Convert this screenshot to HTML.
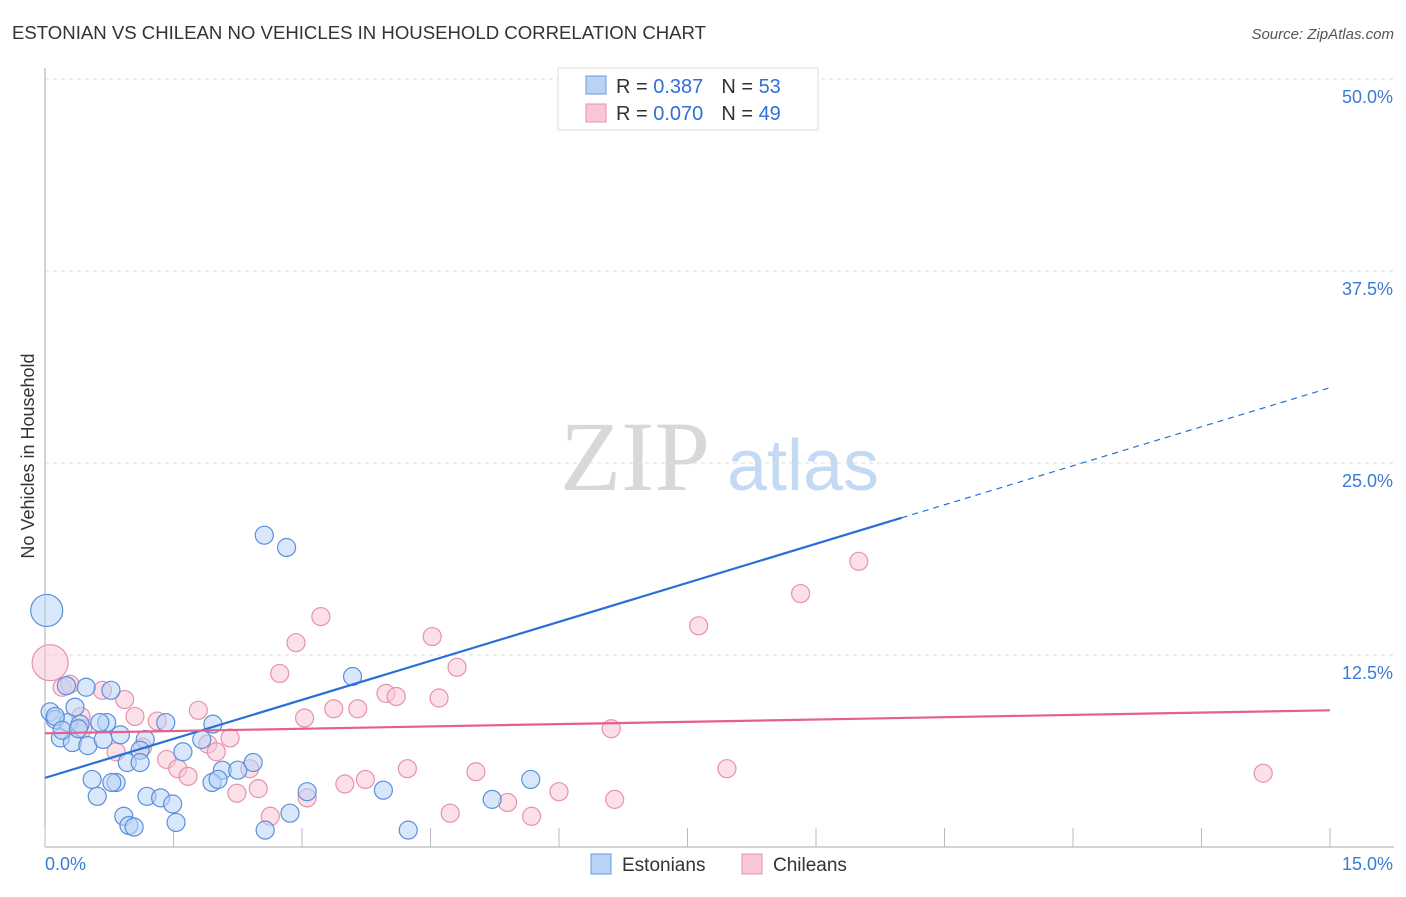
<!DOCTYPE html>
<html><head><meta charset="utf-8"><style>
body{margin:0;background:#fff;font-family:"Liberation Sans",sans-serif}
svg text{font-family:"Liberation Sans",sans-serif}
</style></head><body>
<svg id="chart" width="1406" height="892" viewBox="0 0 1406 892">
<text x="12" y="39" font-size="18" fill="#333" textLength="694" lengthAdjust="spacingAndGlyphs">ESTONIAN VS CHILEAN NO VEHICLES IN HOUSEHOLD CORRELATION CHART</text>
<text x="1394" y="39" font-size="15" fill="#555" font-style="italic" text-anchor="end">Source: ZipAtlas.com</text>
<g>
<text x="635" y="490" font-size="100" fill="#d8d8d8" style="font-family:'Liberation Serif',serif" text-anchor="middle">ZIP</text>
<text x="803" y="490" font-size="72" fill="#c4d9f3" text-anchor="middle">atlas</text>
</g>
<g id="grid"></g>
<g id="axes"></g>
<g id="pts"></g>
<g id="lines"></g>
<text transform="translate(34,456) rotate(-90)" font-size="18" fill="#333" text-anchor="middle">No Vehicles in Household</text>
<g>
<rect x="558" y="68" width="260" height="62" fill="#fff" stroke="#ddd"/>
<rect x="586" y="76" width="20" height="18" fill="#b8d3f5" stroke="#6a9be0"/>
<rect x="586" y="104" width="20" height="18" fill="#f8c6d6" stroke="#e891ad"/>
<text x="616" y="93" font-size="20" fill="#333">R = <tspan fill="#2f6fd6"> 0.387</tspan><tspan dx="18" fill="#333">N = </tspan><tspan fill="#2f6fd6">53</tspan></text>
<text x="616" y="120" font-size="20" fill="#333">R = <tspan fill="#2f6fd6">0.070</tspan><tspan dx="18" fill="#333">N = </tspan><tspan fill="#2f6fd6">49</tspan></text>
</g>
<g>
<rect x="591" y="854" width="20" height="20" fill="#b8d3f5" stroke="#6a9be0"/>
<text x="622" y="871" font-size="19" fill="#333">Estonians</text>
<rect x="742" y="854" width="20" height="20" fill="#f8c6d6" stroke="#e891ad"/>
<text x="773" y="871" font-size="19" fill="#333">Chileans</text>
</g>
</svg>
<script>
const xTicks=[0,1.5,3,4.5,6,7.5,9,10.5,12,13.5,15];
const yTicks=[12.5,25,37.5,50];
const yTickLabels=["12.5%","25.0%","37.5%","50.0%"];
const estX=[0.02,2.56,2.82,3.59,0.06,0.12,0.18,0.27,0.35,0.41,0.32,0.50,0.48,0.25,0.77,0.72,0.68,0.88,1.17,1.11,0.96,1.11,1.41,1.61,1.83,1.96,2.07,2.25,2.43,1.95,2.02,0.83,0.78,0.55,0.61,1.19,1.35,1.49,0.92,0.98,1.04,1.53,2.57,2.86,3.06,3.95,4.24,5.22,5.67,0.12,0.20,0.39,0.64];
const estY=[15.4,20.3,19.5,11.1,8.8,8.3,7.1,8.1,9.1,8.0,6.8,6.6,10.4,10.5,10.2,8.1,7.0,7.3,7.0,6.3,5.5,5.5,8.1,6.2,7.0,8.0,5.0,5.0,5.5,4.2,4.4,4.2,4.2,4.4,3.3,3.3,3.2,2.8,2.0,1.4,1.3,1.6,1.1,2.2,3.6,3.7,1.1,3.1,4.4,8.5,7.6,7.7,8.1];
const estSize=[16];
const chiX=[0.06,0.20,0.29,0.67,0.93,0.42,0.44,1.05,1.31,0.83,1.14,1.79,1.90,2.16,2.00,1.42,1.55,1.67,2.39,2.24,2.49,2.63,3.06,2.74,2.93,3.22,3.03,3.37,3.65,3.98,4.10,3.50,3.74,4.23,4.52,4.81,4.60,4.73,5.03,5.40,5.68,6.00,6.61,6.65,7.63,7.96,8.82,9.50,14.22];
const chiY=[12.0,10.4,10.6,10.2,9.6,8.5,7.7,8.5,8.2,6.2,6.5,8.9,6.7,7.1,6.2,5.7,5.1,4.6,5.1,3.5,3.8,2.0,3.2,11.3,13.3,15.0,8.4,9.0,9.0,10.0,9.8,4.1,4.4,5.1,13.7,11.7,9.7,2.2,4.9,2.9,2.0,3.6,7.7,3.1,14.4,5.1,16.5,18.6,4.8];
const chiSize=[18];
const estTrend=[4.5,29.9];
const chiTrend=[7.4,8.9];
const estSolidEnd=10.0;

const X=v=>45+v*(1285/15);
const Y=v=>847-v*(768/50);
const NS="http://www.w3.org/2000/svg";
function mk(tag,attrs,parent){const e=document.createElementNS(NS,tag);for(const k in attrs)e.setAttribute(k,attrs[k]);parent.appendChild(e);return e;}
const grid=document.getElementById('grid'),axes=document.getElementById('axes'),pts=document.getElementById('pts'),lines=document.getElementById('lines');
yTicks.forEach((t,i)=>{
  const l=mk('line',{x1:45,x2:1394,y1:Y(t),y2:Y(t),stroke:'#ddd','stroke-dasharray':'4,4'},grid);
  
  
  const tx=mk('text',{x:1393,y:Y(t)+24,'font-size':18,fill:'#3a7bd5','text-anchor':'end'},axes);
  tx.textContent=yTickLabels[i];
  
  
});
const xa=mk('line',{x1:45,x2:1394,y1:847,y2:847,stroke:'#aaa'},axes);


const ya=mk('line',{x1:45,x2:45,y1:68,y2:847,stroke:'#aaa'},axes);


xTicks.forEach(t=>{
  const l=mk('line',{x1:X(t),x2:X(t),y1:828,y2:847,stroke:'#bbb'},axes);
  
  
});
[[0,'0.0%','start',45],[15,'15.0%','end',1393]].forEach(a=>{
  const tx=mk('text',{x:a[3],y:870,'font-size':18,fill:'#3a7bd5','text-anchor':a[2]},axes);
  tx.textContent=a[1];
  
  
});
function drawPts(xs,ys,sz,fill,stroke,name){
  xs.forEach((v,i)=>{
    const c=mk('circle',{cx:X(v),cy:Y(ys[i]),r:sz[i]||9,fill:fill,'fill-opacity':0.55,stroke:stroke,'stroke-width':1.2},pts);
    
    
  });
}
drawPts(chiX,chiY,chiSize,'#f8c6d6','#e891ad','chilean-point');
drawPts(estX,estY,estSize,'#b8d3f5','#5b8fdc','estonian-point');
const ey=x=>estTrend[0]+(estTrend[1]-estTrend[0])*x/15;
const l1=mk('line',{x1:X(0),y1:Y(ey(0)),x2:X(estSolidEnd),y2:Y(ey(estSolidEnd)),stroke:'#2a6fd8','stroke-width':2.2},lines);


const l2=mk('line',{x1:X(estSolidEnd),y1:Y(ey(estSolidEnd)),x2:X(15),y2:Y(ey(15)),stroke:'#2a6fd8','stroke-width':1.2,'stroke-dasharray':'6,5'},lines);


const l3=mk('line',{x1:X(0),y1:Y(chiTrend[0]),x2:X(15),y2:Y(chiTrend[1]),stroke:'#e6608c','stroke-width':2.2},lines);


</script>
</body></html>
